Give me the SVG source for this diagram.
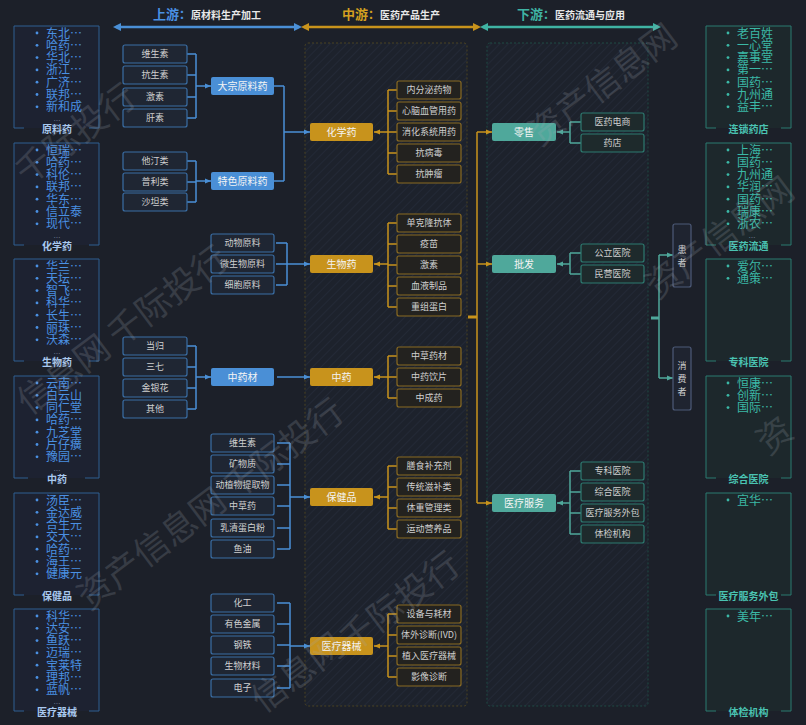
<svg xmlns="http://www.w3.org/2000/svg" width="806" height="725" viewBox="0 0 806 725">
<defs>
<style>
text{font-family:'Noto Sans CJK SC','Noto Sans',sans-serif}
.lu{fill:#1f2633;stroke:#3a6ea5;stroke-width:1.2}
.lm{fill:#23221f;stroke:#8a6b22;stroke-width:1.2}
.ld{fill:#1e2a2c;stroke:#2d7a70;stroke-width:1.2}
.nb{fill:#4a8fd6}
.ng{fill:#c8931c}
.nt{fill:#4fa89b}
.t9{font-size:9px;fill:#d0d0d0;text-anchor:middle}
.t10{font-size:10px;fill:#f4f4f4;text-anchor:middle}
.cb{fill:none;stroke:#4a8fd6;stroke-width:1.5}
.cg{fill:none;stroke:#c8931c;stroke-width:1.5}
.ct{fill:none;stroke:#4fa89b;stroke-width:1.5}
.pf{fill:#1d2231}
.pfr{fill:#1d282c}
.pl{fill:none;stroke:#2f5f92;stroke-width:1}
.pr{fill:none;stroke:#2b7b70;stroke-width:1}
.ll{font-size:12px;fill:#4a90e2}
.lr{font-size:12px;fill:#3bb8a6}
.dl{fill:#4a90e2}
.dr{fill:#3bb8a6}
.lbl{font-size:10px;font-weight:bold;fill:#a9c9ef;text-anchor:middle}
.lbr{font-size:10px;font-weight:bold;fill:#4ac3b2;text-anchor:middle}
.el{font-size:7px;fill:#6f7f96;text-anchor:middle}
.wm{font-size:35px;fill:#a4aab4;opacity:0.2}
.pt{fill:#1f2430;stroke:#4d5a78;stroke-width:1.2}
</style>
<marker id="ab" viewBox="0 0 6 6" refX="6" refY="3" markerWidth="6" markerHeight="6" markerUnits="userSpaceOnUse" orient="auto"><path d="M0,0.5 L6,3 L0,5.5 z" fill="#4a8fd6"/></marker>
<marker id="ag" viewBox="0 0 6 6" refX="6" refY="3" markerWidth="6" markerHeight="6" markerUnits="userSpaceOnUse" orient="auto"><path d="M0,0.5 L6,3 L0,5.5 z" fill="#c8931c"/></marker>
<marker id="at" viewBox="0 0 6 6" refX="6" refY="3" markerWidth="6" markerHeight="6" markerUnits="userSpaceOnUse" orient="auto"><path d="M0,0.5 L6,3 L0,5.5 z" fill="#4fa89b"/></marker>
<marker id="hb" viewBox="0 0 8 8" refX="5" refY="4" markerWidth="8" markerHeight="8" markerUnits="userSpaceOnUse" orient="auto-start-reverse"><path d="M0,0 L8,4 L0,8 z" fill="#4a8fd6"/></marker>
<marker id="hg" viewBox="0 0 8 8" refX="5" refY="4" markerWidth="8" markerHeight="8" markerUnits="userSpaceOnUse" orient="auto-start-reverse"><path d="M0,0 L8,4 L0,8 z" fill="#c8931c"/></marker>
<marker id="ht" viewBox="0 0 8 8" refX="5" refY="4" markerWidth="8" markerHeight="8" markerUnits="userSpaceOnUse" orient="auto-start-reverse"><path d="M0,0 L8,4 L0,8 z" fill="#3fb3a3"/></marker>
<pattern id="hatch" width="6" height="6" patternUnits="userSpaceOnUse" patternTransform="rotate(45)"><rect width="6" height="6" fill="#1d222c"/><line x1="0" y1="0" x2="0" y2="6" stroke="#232936" stroke-width="2"/></pattern>
</defs>
<rect width="806" height="725" fill="#1c2029"/>

<!-- headers -->
<g id="hdr-up">
<text x="207" y="19" text-anchor="middle" font-weight="bold" font-size="10" fill="#e8e8e8"><tspan fill="#4a90e2" font-size="13">上游</tspan><tspan fill="#4a90e2" font-size="12">：</tspan>原材料生产加工</text>
<line x1="116" y1="27" x2="299" y2="27" stroke="#4a8fd6" stroke-width="2.5" marker-start="url(#hb)" marker-end="url(#hb)"/>
</g>
<g id="hdr-mid">
<text x="391" y="19" text-anchor="middle" font-weight="bold" font-size="10" fill="#e8e8e8"><tspan fill="#d4a020" font-size="13">中游</tspan><tspan fill="#d4a020" font-size="12">：</tspan>医药产品生产</text>
<line x1="304" y1="27" x2="478" y2="27" stroke="#c8931c" stroke-width="2.5" marker-start="url(#hg)" marker-end="url(#hg)"/>
</g>
<g id="hdr-down">
<text x="571" y="19" text-anchor="middle" font-weight="bold" font-size="10" fill="#e8e8e8"><tspan fill="#3fb3a3" font-size="13">下游</tspan><tspan fill="#3fb3a3" font-size="12">：</tspan>医药流通与应用</text>
<line x1="483" y1="27" x2="658" y2="27" stroke="#3fb3a3" stroke-width="2.5" marker-start="url(#ht)" marker-end="url(#ht)"/>
</g>

<!-- dashed stage panels -->
<g id="stage-mid"><rect x="305" y="43" width="162" height="663" rx="3" fill="url(#hatch)" stroke="#4a4222" stroke-dasharray="2 2"/></g>
<g id="stage-down"><rect x="487" y="43" width="161" height="663" rx="3" fill="url(#hatch)" stroke="#1f4a45" stroke-dasharray="2 2"/></g>

<!-- left company panels -->
<g id="panel-yuanliaoyao">
<rect class="pf" x="14" y="26" width="85" height="102"/>
<path class="pl" d="M24,128 H14 V26 H99 V128 H89"/>
<g class="dl"><circle cx="37" cy="33" r="1.4"/><circle cx="37" cy="45.3" r="1.4"/><circle cx="37" cy="57.6" r="1.4"/><circle cx="37" cy="69.9" r="1.4"/><circle cx="37" cy="82.2" r="1.4"/><circle cx="37" cy="94.5" r="1.4"/><circle cx="37" cy="106.8" r="1.4"/></g>
<text class="ll" x="46" y="37.5">东北…<tspan x="46" dy="12.3">哈药…</tspan><tspan x="46" dy="12.3">华北…</tspan><tspan x="46" dy="12.3">浙江…</tspan><tspan x="46" dy="12.3">广济…</tspan><tspan x="46" dy="12.3">联邦…</tspan><tspan x="46" dy="12.3">新和成</tspan></text>
<text class="el" x="57" y="123">…</text>
<text class="lbl" x="57" y="132.8">原料药</text>
</g>
<g id="panel-huaxueyao">
<rect class="pf" x="14" y="143" width="85" height="102"/>
<path class="pl" d="M24,245 H14 V143 H99 V245 H89"/>
<g class="dl"><circle cx="37" cy="150" r="1.4"/><circle cx="37" cy="162.3" r="1.4"/><circle cx="37" cy="174.6" r="1.4"/><circle cx="37" cy="186.9" r="1.4"/><circle cx="37" cy="199.2" r="1.4"/><circle cx="37" cy="211.5" r="1.4"/><circle cx="37" cy="223.8" r="1.4"/></g>
<text class="ll" x="46" y="154.5">恒瑞…<tspan x="46" dy="12.3">哈药…</tspan><tspan x="46" dy="12.3">科伦…</tspan><tspan x="46" dy="12.3">联邦…</tspan><tspan x="46" dy="12.3">华东…</tspan><tspan x="46" dy="12.3">信立泰</tspan><tspan x="46" dy="12.3">现代…</tspan></text>
<text class="el" x="57" y="240">…</text>
<text class="lbl" x="57" y="249.8">化学药</text>
</g>
<g id="panel-shengwuyao">
<rect class="pf" x="14" y="259" width="85" height="102"/>
<path class="pl" d="M24,361 H14 V259 H99 V361 H89"/>
<g class="dl"><circle cx="37" cy="266" r="1.4"/><circle cx="37" cy="278.3" r="1.4"/><circle cx="37" cy="290.6" r="1.4"/><circle cx="37" cy="302.9" r="1.4"/><circle cx="37" cy="315.2" r="1.4"/><circle cx="37" cy="327.5" r="1.4"/><circle cx="37" cy="339.8" r="1.4"/></g>
<text class="ll" x="46" y="270.5">华兰…<tspan x="46" dy="12.3">天坛…</tspan><tspan x="46" dy="12.3">智飞…</tspan><tspan x="46" dy="12.3">科华…</tspan><tspan x="46" dy="12.3">长生…</tspan><tspan x="46" dy="12.3">丽珠…</tspan><tspan x="46" dy="12.3">沃森…</tspan></text>
<text class="el" x="57" y="356">…</text>
<text class="lbl" x="57" y="365.8">生物药</text>
</g>
<g id="panel-zhongyao">
<rect class="pf" x="14" y="376" width="85" height="102"/>
<path class="pl" d="M28,478 H14 V376 H99 V478 H85"/>
<g class="dl"><circle cx="37" cy="383" r="1.4"/><circle cx="37" cy="395.3" r="1.4"/><circle cx="37" cy="407.6" r="1.4"/><circle cx="37" cy="419.9" r="1.4"/><circle cx="37" cy="432.2" r="1.4"/><circle cx="37" cy="444.5" r="1.4"/><circle cx="37" cy="456.8" r="1.4"/></g>
<text class="ll" x="46" y="387.5">云南…<tspan x="46" dy="12.3">白云山</tspan><tspan x="46" dy="12.3">同仁堂</tspan><tspan x="46" dy="12.3">哈药…</tspan><tspan x="46" dy="12.3">九芝堂</tspan><tspan x="46" dy="12.3">片仔癀</tspan><tspan x="46" dy="12.3">豫园…</tspan></text>
<text class="el" x="57" y="473">…</text>
<text class="lbl" x="57" y="482.8">中药</text>
</g>
<g id="panel-baojianpin">
<rect class="pf" x="14" y="493" width="85" height="102"/>
<path class="pl" d="M24,595 H14 V493 H99 V595 H89"/>
<g class="dl"><circle cx="37" cy="500" r="1.4"/><circle cx="37" cy="512.3" r="1.4"/><circle cx="37" cy="524.6" r="1.4"/><circle cx="37" cy="536.9" r="1.4"/><circle cx="37" cy="549.2" r="1.4"/><circle cx="37" cy="561.5" r="1.4"/><circle cx="37" cy="573.8" r="1.4"/></g>
<text class="ll" x="46" y="504.5">汤臣…<tspan x="46" dy="12.3">金达威</tspan><tspan x="46" dy="12.3">合生元</tspan><tspan x="46" dy="12.3">交大…</tspan><tspan x="46" dy="12.3">哈药…</tspan><tspan x="46" dy="12.3">海王…</tspan><tspan x="46" dy="12.3">健康元</tspan></text>
<text class="lbl" x="57" y="599.8">保健品</text>
</g>
<g id="panel-yiliaoqixie">
<rect class="pf" x="14" y="609" width="85" height="102"/>
<path class="pl" d="M24,711 H14 V609 H99 V711 H89"/>
<g class="dl"><circle cx="37" cy="616" r="1.4"/><circle cx="37" cy="628.3" r="1.4"/><circle cx="37" cy="640.6" r="1.4"/><circle cx="37" cy="652.9" r="1.4"/><circle cx="37" cy="665.2" r="1.4"/><circle cx="37" cy="677.5" r="1.4"/><circle cx="37" cy="689.8" r="1.4"/></g>
<text class="ll" x="46" y="620.5">科华…<tspan x="46" dy="12.3">达安…</tspan><tspan x="46" dy="12.3">鱼跃…</tspan><tspan x="46" dy="12.3">迈瑞…</tspan><tspan x="46" dy="12.3">宝莱特</tspan><tspan x="46" dy="12.3">理邦…</tspan><tspan x="46" dy="12.3">蓝帆…</tspan></text>
<text class="el" x="57" y="706">…</text>
<text class="lbl" x="57" y="715.8">医疗器械</text>
</g>

<!-- right company panels -->
<g id="panel-liansuoyaodian">
<rect class="pfr" x="706" y="26" width="85" height="102"/>
<path class="pr" d="M716,128 H706 V26 H791 V128 H781"/>
<g class="dr"><circle cx="728" cy="33" r="1.4"/><circle cx="728" cy="45.3" r="1.4"/><circle cx="728" cy="57.6" r="1.4"/><circle cx="728" cy="69.9" r="1.4"/><circle cx="728" cy="82.2" r="1.4"/><circle cx="728" cy="94.5" r="1.4"/><circle cx="728" cy="106.8" r="1.4"/></g>
<text class="lr" x="737" y="37.5">老百姓<tspan x="737" dy="12.3">一心堂</tspan><tspan x="737" dy="12.3">嘉事堂</tspan><tspan x="737" dy="12.3">第一…</tspan><tspan x="737" dy="12.3">国药…</tspan><tspan x="737" dy="12.3">九州通</tspan><tspan x="737" dy="12.3">益丰…</tspan></text>
<text class="lbr" x="748.5" y="132.8">连锁药店</text>
</g>
<g id="panel-yiyaoliutong">
<rect class="pfr" x="706" y="143" width="85" height="102"/>
<path class="pr" d="M716,245 H706 V143 H791 V245 H781"/>
<g class="dr"><circle cx="728" cy="150" r="1.4"/><circle cx="728" cy="162.3" r="1.4"/><circle cx="728" cy="174.6" r="1.4"/><circle cx="728" cy="186.9" r="1.4"/><circle cx="728" cy="199.2" r="1.4"/><circle cx="728" cy="211.5" r="1.4"/><circle cx="728" cy="223.8" r="1.4"/></g>
<text class="lr" x="737" y="154.5">上海…<tspan x="737" dy="12.3">国药…</tspan><tspan x="737" dy="12.3">九州通</tspan><tspan x="737" dy="12.3">华润…</tspan><tspan x="737" dy="12.3">国药…</tspan><tspan x="737" dy="12.3">瑞康…</tspan><tspan x="737" dy="12.3">浙农…</tspan></text>
<text class="el" x="752" y="240" fill="#3bb8a6">…</text>
<text class="lbr" x="748.5" y="249.8">医药流通</text>
</g>
<g id="panel-zhuankeyiyuan">
<rect class="pfr" x="706" y="259" width="85" height="102"/>
<path class="pr" d="M716,361 H706 V259 H791 V361 H781"/>
<g class="dr"><circle cx="728" cy="266" r="1.4"/><circle cx="728" cy="278.3" r="1.4"/></g>
<text class="lr" x="737" y="270.5">爱尔…<tspan x="737" dy="12.3">通策…</tspan></text>
<text class="lbr" x="748.5" y="365.8">专科医院</text>
</g>
<g id="panel-zongheyiyuan">
<rect class="pfr" x="706" y="376" width="85" height="102"/>
<path class="pr" d="M716,478 H706 V376 H791 V478 H781"/>
<g class="dr"><circle cx="728" cy="383" r="1.4"/><circle cx="728" cy="395.3" r="1.4"/><circle cx="728" cy="407.6" r="1.4"/></g>
<text class="lr" x="737" y="387.5">恒康…<tspan x="737" dy="12.3">创新…</tspan><tspan x="737" dy="12.3">国际…</tspan></text>
<text class="lbr" x="748.5" y="482.8">综合医院</text>
</g>
<g id="panel-fuwuwaibao">
<rect class="pfr" x="706" y="493" width="85" height="102"/>
<path class="pr" d="M716,595 H706 V493 H791 V595 H781"/>
<g class="dr"><circle cx="728" cy="500" r="1.4"/></g>
<text class="lr" x="737" y="504.5">宜华…</text>
<text class="lbr" x="748.5" y="599.8">医疗服务外包</text>
</g>
<g id="panel-tijianjigou">
<rect class="pfr" x="706" y="609" width="85" height="102"/>
<path class="pr" d="M716,711 H706 V609 H791 V711 H781"/>
<g class="dr"><circle cx="728" cy="616" r="1.4"/></g>
<text class="lr" x="737" y="620.5">美年…</text>
<text class="lbr" x="748.5" y="715.8">体检机构</text>
</g>

<!-- connectors -->
<g id="connectors">
<path class="cb" d="M187,54H196M187,75H196M187,97H196M187,118H196M196,54V118"/>
<path class="cb" d="M196,86H211" marker-end="url(#ab)"/>
<path class="cb" d="M187,161H196M187,182H196M187,202H196M196,161V202"/>
<path class="cb" d="M196,181H211" marker-end="url(#ab)"/>
<path class="cb" d="M187,346H196M187,367H196M187,388H196M187,409H196M196,346V409"/>
<path class="cb" d="M196,377H211" marker-end="url(#ab)"/>
<path class="cb" d="M274,86H284M274,181H284M284,86V181"/>
<path class="cb" d="M284,132H310" marker-end="url(#ab)"/>
<path class="cb" d="M276,243H287M276,264H287M276,285H287M287,243V285"/>
<path class="cb" d="M287,264H310" marker-end="url(#ab)"/>
<path class="cb" d="M277,377H310" marker-end="url(#ab)"/>
<path class="cb" d="M277,443H290M277,464H290M277,485H290M277,506H290M277,528H290M277,549H290M290,443V549"/>
<path class="cb" d="M290,497H310" marker-end="url(#ab)"/>
<path class="cb" d="M277,603H290M277,624H290M277,645H290M277,666H290M277,688H290M290,603V688"/>
<path class="cb" d="M290,646H310" marker-end="url(#ab)"/>

<path class="cg" d="M397,90H388M397,111H388M397,132H388M397,153H388M397,174H388M388,90V174"/>
<path class="cg" d="M388,132H374" marker-end="url(#ag)"/>
<path class="cg" d="M397,223H388M397,244H388M397,265H388M397,286H388M397,307H388M388,223V307"/>
<path class="cg" d="M388,264H374" marker-end="url(#ag)"/>
<path class="cg" d="M397,356H388M397,377H388M397,398H388M388,356V398"/>
<path class="cg" d="M388,377H374" marker-end="url(#ag)"/>
<path class="cg" d="M397,466H388M397,487H388M397,508H388M397,529H388M388,466V529"/>
<path class="cg" d="M388,497H374" marker-end="url(#ag)"/>
<path class="cg" d="M397,614H388M397,635H388M397,656H388M397,677H388M388,614V677"/>
<path class="cg" d="M388,646H374" marker-end="url(#ag)"/>
<rect x="468" y="315.5" width="9" height="3" fill="#c8931c"/>
<path class="cg" d="M477,132V503"/>
<path class="cg" d="M477,132H492" marker-end="url(#ag)"/>
<path class="cg" d="M477,264H492" marker-end="url(#ag)"/>
<path class="cg" d="M477,503H492" marker-end="url(#ag)"/>

<path class="ct" d="M581,122H570M581,143H570M570,122V143"/>
<path class="ct" d="M570,132H557" marker-end="url(#at)"/>
<path class="ct" d="M581,253H570M581,274H570M570,253V274"/>
<path class="ct" d="M570,264H557" marker-end="url(#at)"/>
<path class="ct" d="M581,471H570M581,492H570M581,513H570M581,534H570M570,471V534"/>
<path class="ct" d="M570,503H557" marker-end="url(#at)"/>
<rect x="651" y="316.5" width="8" height="3" fill="#4fa89b"/>
<path class="ct" d="M659,255V378"/>
<path class="ct" d="M659,255H673" marker-end="url(#at)"/>
<path class="ct" d="M659,378H673" marker-end="url(#at)"/>
</g>

<!-- upstream leaf nodes -->
<g id="u-weishengsu"><rect class="lu" x="123" y="45" width="64" height="18" rx="2"/><text class="t9" x="155" y="57.4">维生素</text></g>
<g id="u-kangshengsu"><rect class="lu" x="123" y="66" width="64" height="18" rx="2"/><text class="t9" x="155" y="78.4">抗生素</text></g>
<g id="u-jisu"><rect class="lu" x="123" y="88" width="64" height="18" rx="2"/><text class="t9" x="155" y="100.4">激素</text></g>
<g id="u-gansu"><rect class="lu" x="123" y="109" width="64" height="18" rx="2"/><text class="t9" x="155" y="121.4">肝素</text></g>
<g id="u-tating"><rect class="lu" x="123" y="152" width="64" height="18" rx="2"/><text class="t9" x="155" y="164.4">他汀类</text></g>
<g id="u-puli"><rect class="lu" x="123" y="173" width="64" height="18" rx="2"/><text class="t9" x="155" y="185.4">普利类</text></g>
<g id="u-shatan"><rect class="lu" x="123" y="193" width="64" height="18" rx="2"/><text class="t9" x="155" y="205.4">沙坦类</text></g>
<g id="u-danggui"><rect class="lu" x="123" y="337" width="64" height="18" rx="2"/><text class="t9" x="155" y="349.4">当归</text></g>
<g id="u-sanqi"><rect class="lu" x="123" y="358" width="64" height="18" rx="2"/><text class="t9" x="155" y="370.4">三七</text></g>
<g id="u-jinyinhua"><rect class="lu" x="123" y="379" width="64" height="18" rx="2"/><text class="t9" x="155" y="391.4">金银花</text></g>
<g id="u-qita"><rect class="lu" x="123" y="400" width="64" height="18" rx="2"/><text class="t9" x="155" y="412.4">其他</text></g>

<g id="u-dazong"><rect class="nb" x="211" y="77" width="63" height="18" rx="2"/><text class="t10" x="242.5" y="89.8">大宗原料药</text></g>
<g id="u-tese"><rect class="nb" x="211" y="172" width="63" height="18" rx="2"/><text class="t10" x="242.5" y="184.8">特色原料药</text></g>
<g id="u-zhongyaocai"><rect class="nb" x="211" y="368" width="63" height="18" rx="2"/><text class="t10" x="242.5" y="380.8">中药材</text></g>
<g id="u-dongwu"><rect class="lu" x="211" y="234" width="63" height="18" rx="2"/><text class="t9" x="242.5" y="246.4">动物原料</text></g>
<g id="u-weishengwu"><rect class="lu" x="211" y="255" width="63" height="18" rx="2"/><text class="t9" x="242.5" y="267.4">微生物原料</text></g>
<g id="u-xibao"><rect class="lu" x="211" y="276" width="63" height="18" rx="2"/><text class="t9" x="242.5" y="288.4">细胞原料</text></g>
<g id="u-weishengsu2"><rect class="lu" x="211" y="434" width="63" height="18" rx="2"/><text class="t9" x="242.5" y="446.4">维生素</text></g>
<g id="u-kuangwuzhi"><rect class="lu" x="211" y="455" width="63" height="18" rx="2"/><text class="t9" x="242.5" y="467.4">矿物质</text></g>
<g id="u-tiquwu"><rect class="lu" x="211" y="476" width="63" height="18" rx="2"/><text class="t9" x="242.5" y="488.4">动植物提取物</text></g>
<g id="u-zhongcaoyao"><rect class="lu" x="211" y="497" width="63" height="18" rx="2"/><text class="t9" x="242.5" y="509.4">中草药</text></g>
<g id="u-ruqing"><rect class="lu" x="211" y="519" width="63" height="18" rx="2"/><text class="t9" x="242.5" y="531.4">乳清蛋白粉</text></g>
<g id="u-yuyou"><rect class="lu" x="211" y="540" width="63" height="18" rx="2"/><text class="t9" x="242.5" y="552.4">鱼油</text></g>
<g id="u-huagong"><rect class="lu" x="211" y="594" width="63" height="18" rx="2"/><text class="t9" x="242.5" y="606.4">化工</text></g>
<g id="u-youse"><rect class="lu" x="211" y="615" width="63" height="18" rx="2"/><text class="t9" x="242.5" y="627.4">有色金属</text></g>
<g id="u-gangtie"><rect class="lu" x="211" y="636" width="63" height="18" rx="2"/><text class="t9" x="242.5" y="648.4">钢铁</text></g>
<g id="u-shengwucailiao"><rect class="lu" x="211" y="657" width="63" height="18" rx="2"/><text class="t9" x="242.5" y="669.4">生物材料</text></g>
<g id="u-dianzi"><rect class="lu" x="211" y="679" width="63" height="18" rx="2"/><text class="t9" x="242.5" y="691.4">电子</text></g>

<!-- midstream nodes -->
<g id="m-huaxueyao"><rect class="ng" x="310" y="123" width="63" height="18" rx="2"/><text class="t10" x="341.5" y="135.8">化学药</text></g>
<g id="m-shengwuyao"><rect class="ng" x="310" y="255" width="63" height="18" rx="2"/><text class="t10" x="341.5" y="267.8">生物药</text></g>
<g id="m-zhongyao"><rect class="ng" x="310" y="368" width="63" height="18" rx="2"/><text class="t10" x="341.5" y="380.8">中药</text></g>
<g id="m-baojianpin"><rect class="ng" x="310" y="488" width="63" height="18" rx="2"/><text class="t10" x="341.5" y="500.8">保健品</text></g>
<g id="m-yiliaoqixie"><rect class="ng" x="310" y="637" width="63" height="18" rx="2"/><text class="t10" x="341.5" y="649.8">医疗器械</text></g>

<g id="m-neifenmi"><rect class="lm" x="397" y="81" width="64" height="18" rx="2"/><text class="t9" x="429" y="93.4">内分泌药物</text></g>
<g id="m-xinnao"><rect class="lm" x="397" y="102" width="64" height="18" rx="2"/><text class="t9" x="429" y="114.4">心脑血管用药</text></g>
<g id="m-xiaohua"><rect class="lm" x="397" y="123" width="64" height="18" rx="2"/><text class="t9" x="429" y="135.4">消化系统用药</text></g>
<g id="m-kangbingdu"><rect class="lm" x="397" y="144" width="64" height="18" rx="2"/><text class="t9" x="429" y="156.4">抗病毒</text></g>
<g id="m-kangzhongliu"><rect class="lm" x="397" y="165" width="64" height="18" rx="2"/><text class="t9" x="429" y="177.4">抗肿瘤</text></g>
<g id="m-dankelong"><rect class="lm" x="397" y="214" width="64" height="18" rx="2"/><text class="t9" x="429" y="226.4">单克隆抗体</text></g>
<g id="m-yimiao"><rect class="lm" x="397" y="235" width="64" height="18" rx="2"/><text class="t9" x="429" y="247.4">疫苗</text></g>
<g id="m-jisu"><rect class="lm" x="397" y="256" width="64" height="18" rx="2"/><text class="t9" x="429" y="268.4">激素</text></g>
<g id="m-xueye"><rect class="lm" x="397" y="277" width="64" height="18" rx="2"/><text class="t9" x="429" y="289.4">血液制品</text></g>
<g id="m-chongzu"><rect class="lm" x="397" y="298" width="64" height="18" rx="2"/><text class="t9" x="429" y="310.4">重组蛋白</text></g>
<g id="m-zhongcaoyaocai"><rect class="lm" x="397" y="347" width="64" height="18" rx="2"/><text class="t9" x="429" y="359.4">中草药材</text></g>
<g id="m-yinpian"><rect class="lm" x="397" y="368" width="64" height="18" rx="2"/><text class="t9" x="429" y="380.4">中药饮片</text></g>
<g id="m-zhongchengyao"><rect class="lm" x="397" y="389" width="64" height="18" rx="2"/><text class="t9" x="429" y="401.4">中成药</text></g>
<g id="m-shanshi"><rect class="lm" x="397" y="457" width="64" height="18" rx="2"/><text class="t9" x="429" y="469.4">膳食补充剂</text></g>
<g id="m-zibu"><rect class="lm" x="397" y="478" width="64" height="18" rx="2"/><text class="t9" x="429" y="490.4">传统滋补类</text></g>
<g id="m-tizhong"><rect class="lm" x="397" y="499" width="64" height="18" rx="2"/><text class="t9" x="429" y="511.4">体重管理类</text></g>
<g id="m-yundong"><rect class="lm" x="397" y="520" width="64" height="18" rx="2"/><text class="t9" x="429" y="532.4">运动营养品</text></g>
<g id="m-shebei"><rect class="lm" x="397" y="605" width="64" height="18" rx="2"/><text class="t9" x="429" y="617.4">设备与耗材</text></g>
<g id="m-ivd"><rect class="lm" x="397" y="626" width="64" height="18" rx="2"/><text class="t9" x="429" y="638.4">体外诊断(IVD)</text></g>
<g id="m-zhiru"><rect class="lm" x="397" y="647" width="64" height="18" rx="2"/><text class="t9" x="429" y="659.4">植入医疗器械</text></g>
<g id="m-yingxiang"><rect class="lm" x="397" y="668" width="64" height="18" rx="2"/><text class="t9" x="429" y="680.4">影像诊断</text></g>

<!-- downstream nodes -->
<g id="d-lingshou"><rect class="nt" x="492" y="123" width="64" height="18" rx="2"/><text class="t10" x="524" y="135.8">零售</text></g>
<g id="d-pifa"><rect class="nt" x="492" y="255" width="64" height="18" rx="2"/><text class="t10" x="524" y="267.8">批发</text></g>
<g id="d-yiliaofuwu"><rect class="nt" x="492" y="494" width="64" height="18" rx="2"/><text class="t10" x="524" y="506.8">医疗服务</text></g>
<g id="d-dianshang"><rect class="ld" x="581" y="113" width="63" height="18" rx="2"/><text class="t9" x="612.5" y="125.4">医药电商</text></g>
<g id="d-yaodian"><rect class="ld" x="581" y="134" width="63" height="18" rx="2"/><text class="t9" x="612.5" y="146.4">药店</text></g>
<g id="d-gongli"><rect class="ld" x="581" y="244" width="63" height="18" rx="2"/><text class="t9" x="612.5" y="256.4">公立医院</text></g>
<g id="d-minying"><rect class="ld" x="581" y="265" width="63" height="18" rx="2"/><text class="t9" x="612.5" y="277.4">民营医院</text></g>
<g id="d-zhuanke"><rect class="ld" x="581" y="462" width="63" height="18" rx="2"/><text class="t9" x="612.5" y="474.4">专科医院</text></g>
<g id="d-zonghe"><rect class="ld" x="581" y="483" width="63" height="18" rx="2"/><text class="t9" x="612.5" y="495.4">综合医院</text></g>
<g id="d-waibao"><rect class="ld" x="581" y="504" width="63" height="18" rx="2"/><text class="t9" x="612.5" y="516.4">医疗服务外包</text></g>
<g id="d-tijian"><rect class="ld" x="581" y="525" width="63" height="18" rx="2"/><text class="t9" x="612.5" y="537.4">体检机构</text></g>

<g id="d-huanzhe"><rect class="pt" x="673" y="224" width="18" height="63" rx="2"/><text class="t9" x="682" y="253.4">患<tspan x="682" dy="13">者</tspan></text></g>
<g id="d-xiaofeizhe"><rect class="pt" x="673" y="347" width="18" height="63" rx="2"/><text class="t9" x="682" y="369.4">消<tspan x="682" dy="13">费</tspan><tspan x="682" dy="13">者</tspan></text></g>

<!-- watermark -->
<g id="watermark">
<text class="wm" transform="translate(27,186) rotate(-37)">千际投行</text>
<text class="wm" transform="translate(29,416) rotate(-37)">信息网</text>
<text class="wm" transform="translate(119,348) rotate(-37)">千际投行</text>
<text class="wm" transform="translate(89,611) rotate(-37)">资产信息网</text>
<text class="wm" transform="translate(235,501) rotate(-37)">千际投行</text>
<text class="wm" transform="translate(263,714) rotate(-37)">信息网</text>
<text class="wm" transform="translate(351,654) rotate(-37)">千际投行</text>
<text class="wm" transform="translate(540,147) rotate(-37)">资产信息网</text>
<text class="wm" transform="translate(657,300) rotate(-37)">资产信息网</text>
<text class="wm" transform="translate(768,456) rotate(-37)">资</text>
</g>
</svg>
